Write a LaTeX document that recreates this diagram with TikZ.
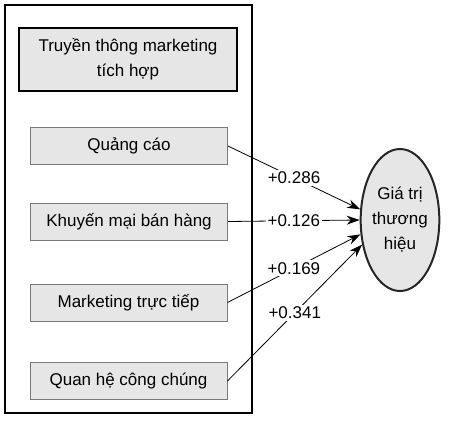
\documentclass[tikz,border=0pt]{standalone}
\usepackage{fontspec}
\setmainfont{Liberation Sans}
\usetikzlibrary{arrows.meta,shapes.geometric}
\definecolor{boxfill}{HTML}{E6E6E6}
\definecolor{boxline}{HTML}{7A7A7A}
\begin{document}
\begin{tikzpicture}[x=1pt,y=-1pt,
  every node/.style={font=\fontsize{17}{25}\selectfont},
  itembox/.style={draw=boxline,line width=0.9pt,fill=boxfill,minimum width=197pt,minimum height=37pt,inner sep=0pt},
  titlebox/.style={draw=black,line width=2.4pt,fill=boxfill,minimum width=218pt,minimum height=63pt,align=center,inner sep=0pt},
  valnode/.style={ellipse,draw=black!85,line width=2pt,fill=boxfill,minimum width=78pt,minimum height=142pt,align=center,inner sep=0pt},
  conn/.style={line width=0.8pt,-{Stealth[length=13pt,width=9pt]}},
  lbl/.style={fill=white,inner sep=2pt}]
\useasboundingbox (0,0) rectangle (450,421);
\draw[line width=2.5pt] (5,5) rectangle (252,413);
\node[titlebox] (title) at (128,59.5) {Truyền thông marketing\\tích hợp};
\node[itembox] (qc) at (129,146) {Quảng cáo};
\node[itembox] (km) at (129,221.5) {Khuyến mại bán hàng};
\node[itembox] (mk) at (128.5,302.5) {Marketing trực tiếp};
\node[itembox] (qh) at (128.5,381) {Quan hệ công chúng};
\node[valnode] (gt) at (400,220) {Giá trị\\thương\\hiệu};
\draw[conn] (qc.east) -- node[lbl] {+0.286} (gt.165);
\draw[conn] (km.east) -- node[lbl] {+0.126} (gt.180);
\draw[conn] (mk.east) -- node[lbl] {+0.169} (gt.200);
\draw[conn] (qh.east) -- node[lbl] {+0.341} (gt.213);
\end{tikzpicture}
\end{document}
